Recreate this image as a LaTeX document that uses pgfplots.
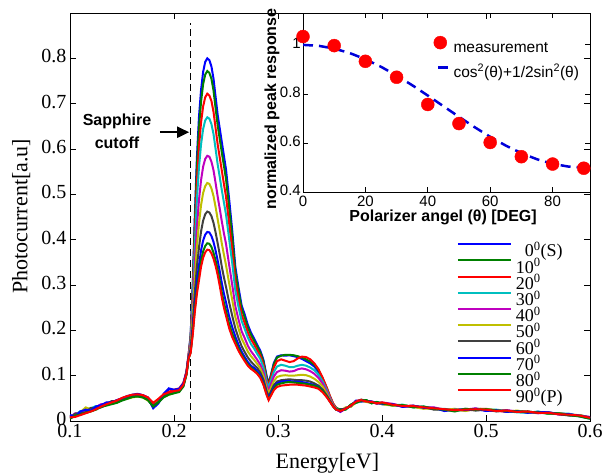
\documentclass[border=0pt]{standalone}
\usepackage{fontspec}
\setmainfont{Liberation Serif}
\newfontfamily\sansf{Liberation Sans}
\usepackage{pgfplots}
\usepackage{pgfplotstable}
\pgfplotsset{compat=1.18}
\usetikzlibrary{arrows.meta}

\definecolor{mblue}{rgb}{0,0,1}
\definecolor{mgreen}{rgb}{0,0.5,0}
\definecolor{mred}{rgb}{1,0,0}
\definecolor{mcyan}{rgb}{0,0.75,0.75}
\definecolor{mmag}{rgb}{0.75,0,0.75}
\definecolor{myel}{rgb}{0.75,0.75,0}
\definecolor{mgray}{rgb}{0.25,0.25,0.25}

% photocurrent spectra, one column per polarizer angle
\pgfplotstableread{
E c0 c10 c20 c30 c40 c50 c60 c70 c80 c90
0.100 0.010 0.006 0.009 0.012 0.008 0.011 0.007 0.013 0.005 0.008
0.105 0.015 0.011 0.014 0.013 0.017 0.012 0.016 0.010 0.012 0.009
0.110 0.020 0.016 0.018 0.022 0.015 0.019 0.017 0.021 0.014 0.013
0.115 0.024 0.020 0.026 0.021 0.023 0.030 0.019 0.025 0.018 0.017
0.120 0.027 0.024 0.025 0.028 0.022 0.026 0.029 0.023 0.021 0.021
0.125 0.030 0.029 0.027 0.033 0.031 0.026 0.028 0.032 0.025 0.026
0.130 0.036 0.032 0.034 0.031 0.037 0.033 0.030 0.035 0.031 0.032
0.135 0.038 0.036 0.040 0.037 0.035 0.039 0.036 0.041 0.034 0.037
0.140 0.042 0.039 0.041 0.043 0.040 0.038 0.044 0.041 0.037 0.041
0.145 0.044 0.042 0.046 0.043 0.045 0.041 0.043 0.046 0.040 0.045
0.150 0.048 0.047 0.049 0.046 0.050 0.047 0.048 0.050 0.045 0.051
0.155 0.052 0.050 0.054 0.051 0.053 0.049 0.052 0.055 0.049 0.055
0.160 0.055 0.054 0.057 0.055 0.056 0.052 0.056 0.058 0.053 0.058
0.165 0.057 0.055 0.058 0.056 0.059 0.054 0.057 0.060 0.054 0.059
0.170 0.054 0.053 0.056 0.054 0.057 0.052 0.055 0.057 0.052 0.057
0.175 0.048 0.046 0.050 0.049 0.051 0.045 0.049 0.052 0.046 0.052
0.180 0.030 0.033 0.036 0.034 0.038 0.040 0.035 0.028 0.032 0.040
0.185 0.040 0.043 0.046 0.045 0.047 0.044 0.042 0.039 0.041 0.049
0.190 0.056 0.055 0.058 0.054 0.057 0.053 0.056 0.060 0.052 0.059
0.195 0.070 0.063 0.064 0.060 0.062 0.058 0.061 0.072 0.058 0.063
0.200 0.068 0.066 0.069 0.064 0.066 0.062 0.065 0.069 0.061 0.066
0.205 0.070 0.067 0.072 0.066 0.069 0.068 0.066 0.071 0.064 0.068
0.209 0.082 0.079 0.084 0.078 0.080 0.081 0.077 0.083 0.076 0.080
0.212 0.108 0.106 0.110 0.104 0.107 0.103 0.105 0.106 0.102 0.104
0.214 0.145 0.143 0.146 0.140 0.142 0.139 0.141 0.140 0.137 0.138
0.216 0.190 0.187 0.183 0.178 0.170 0.164 0.158 0.154 0.151 0.150
0.218 0.300 0.293 0.280 0.266 0.244 0.228 0.212 0.200 0.194 0.190
0.220 0.450 0.436 0.411 0.385 0.343 0.313 0.282 0.259 0.247 0.240
0.222 0.580 0.560 0.525 0.488 0.427 0.384 0.340 0.308 0.290 0.280
0.224 0.670 0.646 0.603 0.559 0.487 0.435 0.382 0.343 0.322 0.310
0.226 0.730 0.704 0.658 0.610 0.531 0.476 0.418 0.376 0.353 0.340
0.228 0.770 0.743 0.694 0.644 0.561 0.503 0.442 0.398 0.374 0.360
0.230 0.792 0.764 0.714 0.663 0.578 0.518 0.456 0.411 0.386 0.372
0.232 0.800 0.772 0.722 0.670 0.585 0.525 0.462 0.417 0.392 0.378
0.234 0.796 0.768 0.718 0.667 0.583 0.523 0.460 0.416 0.391 0.377
0.236 0.782 0.755 0.706 0.655 0.572 0.513 0.452 0.408 0.384 0.370
0.238 0.755 0.729 0.682 0.633 0.553 0.496 0.437 0.395 0.371 0.358
0.240 0.715 0.690 0.646 0.600 0.525 0.472 0.416 0.376 0.354 0.342
0.242 0.675 0.652 0.610 0.566 0.495 0.445 0.392 0.354 0.334 0.322
0.244 0.645 0.622 0.581 0.538 0.468 0.419 0.367 0.330 0.309 0.298
0.246 0.615 0.592 0.552 0.509 0.440 0.391 0.340 0.304 0.283 0.272
0.248 0.585 0.563 0.523 0.482 0.414 0.367 0.317 0.281 0.261 0.250
0.250 0.555 0.534 0.495 0.456 0.391 0.344 0.296 0.262 0.243 0.232
0.253 0.490 0.471 0.437 0.402 0.345 0.304 0.262 0.231 0.214 0.205
0.256 0.420 0.405 0.377 0.348 0.300 0.267 0.232 0.207 0.193 0.185
0.259 0.340 0.329 0.309 0.288 0.253 0.229 0.204 0.186 0.176 0.170
0.262 0.295 0.286 0.269 0.252 0.224 0.204 0.183 0.168 0.160 0.155
0.265 0.255 0.248 0.234 0.221 0.198 0.182 0.165 0.153 0.147 0.143
0.268 0.235 0.228 0.216 0.203 0.183 0.168 0.152 0.141 0.135 0.132
0.271 0.212 0.206 0.195 0.184 0.166 0.153 0.140 0.130 0.125 0.122
0.274 0.195 0.190 0.180 0.170 0.154 0.143 0.131 0.122 0.118 0.115
0.277 0.182 0.177 0.169 0.160 0.145 0.135 0.124 0.117 0.112 0.110
0.280 0.168 0.164 0.156 0.148 0.135 0.126 0.117 0.110 0.106 0.104
0.283 0.155 0.151 0.144 0.137 0.124 0.116 0.107 0.101 0.097 0.095
0.286 0.135 0.131 0.125 0.118 0.107 0.099 0.091 0.085 0.082 0.080
0.289 0.100 0.097 0.092 0.087 0.079 0.073 0.066 0.062 0.059 0.058
0.291 0.082 0.080 0.078 0.074 0.066 0.060 0.054 0.050 0.048 0.046
0.293 0.100 0.098 0.094 0.088 0.080 0.072 0.064 0.060 0.057 0.055
0.296 0.128 0.125 0.118 0.108 0.098 0.088 0.079 0.074 0.071 0.068
0.299 0.142 0.140 0.132 0.120 0.108 0.097 0.087 0.083 0.080 0.075
0.303 0.145 0.144 0.136 0.124 0.112 0.100 0.090 0.087 0.083 0.078
0.307 0.144 0.146 0.133 0.122 0.111 0.101 0.091 0.088 0.085 0.079
0.311 0.145 0.146 0.130 0.119 0.109 0.100 0.092 0.088 0.086 0.080
0.315 0.143 0.145 0.132 0.119 0.110 0.100 0.091 0.087 0.085 0.080
0.319 0.141 0.143 0.138 0.122 0.114 0.101 0.090 0.087 0.084 0.080
0.323 0.137 0.140 0.142 0.124 0.116 0.102 0.090 0.086 0.083 0.079
0.327 0.132 0.136 0.141 0.122 0.114 0.101 0.089 0.084 0.082 0.078
0.331 0.127 0.131 0.136 0.118 0.110 0.098 0.087 0.082 0.080 0.076
0.335 0.120 0.124 0.127 0.112 0.104 0.093 0.083 0.079 0.078 0.074
0.339 0.108 0.112 0.114 0.102 0.095 0.086 0.078 0.075 0.074 0.071
0.343 0.090 0.094 0.095 0.087 0.082 0.076 0.069 0.066 0.066 0.063
0.347 0.070 0.072 0.073 0.068 0.064 0.060 0.056 0.054 0.054 0.052
0.350 0.052 0.054 0.055 0.051 0.049 0.046 0.044 0.043 0.043 0.042
0.353 0.037 0.038 0.039 0.036 0.035 0.034 0.033 0.033 0.032 0.032
0.356 0.028 0.029 0.028 0.027 0.026 0.026 0.025 0.025 0.025 0.025
0.360 0.022 0.025 0.021 0.024 0.020 0.023 0.026 0.021 0.024 0.022
0.365 0.028 0.026 0.029 0.025 0.027 0.030 0.026 0.028 0.025 0.027
0.370 0.033 0.036 0.032 0.035 0.034 0.031 0.035 0.033 0.036 0.034
0.375 0.041 0.043 0.044 0.040 0.043 0.041 0.042 0.045 0.040 0.043
0.380 0.046 0.044 0.047 0.043 0.046 0.044 0.047 0.043 0.045 0.046
0.385 0.043 0.045 0.042 0.046 0.044 0.042 0.045 0.044 0.046 0.043
0.390 0.040 0.042 0.043 0.039 0.042 0.040 0.041 0.043 0.039 0.042
0.395 0.041 0.039 0.040 0.042 0.038 0.041 0.039 0.040 0.042 0.039
0.400 0.037 0.040 0.038 0.039 0.041 0.037 0.040 0.038 0.039 0.041
0.410 0.036 0.034 0.037 0.035 0.038 0.034 0.036 0.037 0.035 0.036
0.420 0.032 0.035 0.033 0.036 0.032 0.035 0.034 0.031 0.035 0.033
0.430 0.033 0.031 0.034 0.030 0.033 0.031 0.032 0.034 0.030 0.033
0.440 0.029 0.031 0.028 0.032 0.030 0.027 0.031 0.029 0.032 0.030
0.450 0.028 0.026 0.029 0.027 0.030 0.028 0.025 0.029 0.027 0.028
0.460 0.024 0.026 0.023 0.027 0.025 0.024 0.026 0.022 0.025 0.026
0.470 0.025 0.023 0.026 0.022 0.024 0.027 0.023 0.025 0.021 0.024
0.480 0.026 0.024 0.023 0.027 0.025 0.022 0.026 0.024 0.027 0.025
0.490 0.025 0.027 0.026 0.024 0.028 0.026 0.023 0.027 0.025 0.026
0.500 0.024 0.026 0.027 0.025 0.023 0.026 0.025 0.022 0.026 0.025
0.510 0.024 0.022 0.023 0.025 0.022 0.024 0.021 0.024 0.023 0.022
0.520 0.021 0.023 0.020 0.022 0.024 0.021 0.023 0.020 0.022 0.023
0.530 0.022 0.020 0.022 0.019 0.021 0.023 0.020 0.022 0.021 0.020
0.540 0.019 0.021 0.020 0.018 0.020 0.019 0.021 0.018 0.020 0.021
0.550 0.020 0.018 0.019 0.021 0.017 0.019 0.018 0.020 0.019 0.018
0.560 0.017 0.019 0.018 0.016 0.019 0.017 0.018 0.019 0.016 0.018
0.570 0.016 0.015 0.017 0.016 0.014 0.017 0.015 0.016 0.017 0.015
0.580 0.015 0.013 0.014 0.016 0.013 0.014 0.012 0.015 0.013 0.014
0.590 0.011 0.013 0.012 0.010 0.012 0.013 0.011 0.012 0.010 0.012
0.600 0.006 0.008 0.007 0.005 0.009 0.006 0.008 0.007 0.005 0.007
}\spectra

\pgfplotstableread{
theta meas
0 1.034
10 0.997
20 0.933
30 0.868
40 0.757
50 0.679
60 0.602
70 0.544
80 0.514
90 0.497
}\peakdata

\pgfplotstableread{
theta model
0 1.0000
5 0.9962
10 0.9849
15 0.9665
20 0.9415
25 0.9107
30 0.8750
35 0.8355
40 0.7934
45 0.7500
50 0.7066
55 0.6645
60 0.6250
65 0.5893
70 0.5585
75 0.5335
80 0.5151
85 0.5038
90 0.5000
}\modeldata

\begin{document}
\begin{tikzpicture}
\begin{axis}[
  at={(0pt,0pt)}, anchor=south west,
  scale only axis, width=520pt, height=408pt,
  xmin=0.1, xmax=0.6, ymin=0, ymax=0.9,
  xtick={0.1,0.2,0.3,0.4,0.5,0.6},
  ytick={0,0.1,0.2,0.3,0.4,0.5,0.6,0.7,0.8},
  tick align=inside, major tick length=6pt,
  tick style={black, line width=0.8pt},
  axis line style={line width=0.9pt},
  /pgf/number format/assume math mode=true,
  tick label style={font=\fontsize{20}{24}\selectfont},
  xticklabel style={inner sep=2pt, yshift=-1pt},
  yticklabel style={yshift=2pt},
  xlabel={Energy[eV]}, ylabel={Photocurrent[a.u]},
  label style={font=\fontsize{22}{26}\selectfont},
  xlabel style={at={(axis description cs:0.495,-0.103)}, anchor=center},
  ylabel style={at={(axis description cs:-0.094,0.502)}, anchor=center},
  every axis plot/.append style={line width=2pt, no markers},
  legend cell align=left,
  legend image code/.code={\draw[#1] (0pt,10pt) -- (53pt,10pt);},
  legend style={at={(rel axis cs:0.744,0.436)}, anchor=north west,
    draw=none, fill=none, inner sep=0pt, outer sep=0pt, row sep=-3.1pt,
    font=\fontsize{18}{18}\selectfont,
    nodes={inner sep=0pt, text height=11pt, text depth=5.6pt},
    /tikz/every odd column/.append style={column sep=4pt}},
]
\addplot[black, line width=0.9pt, dash pattern=on 7pt off 4pt, forget plot]
  coordinates {(0.2155,0) (0.2155,0.877)};
\addplot[mblue]  table[x=E, y=c0]  {\spectra}; \addlegendentry{\phantom{1}0\textsuperscript{0}(S)}
\addplot[mgreen] table[x=E, y=c10] {\spectra}; \addlegendentry{10\textsuperscript{0}}
\addplot[mred]   table[x=E, y=c20] {\spectra}; \addlegendentry{20\textsuperscript{0}}
\addplot[mcyan]  table[x=E, y=c30] {\spectra}; \addlegendentry{30\textsuperscript{0}}
\addplot[mmag]   table[x=E, y=c40] {\spectra}; \addlegendentry{40\textsuperscript{0}}
\addplot[myel]   table[x=E, y=c50] {\spectra}; \addlegendentry{50\textsuperscript{0}}
\addplot[mgray]  table[x=E, y=c60] {\spectra}; \addlegendentry{60\textsuperscript{0}}
\addplot[mblue]  table[x=E, y=c70] {\spectra}; \addlegendentry{70\textsuperscript{0}}
\addplot[mgreen] table[x=E, y=c80] {\spectra}; \addlegendentry{80\textsuperscript{0}}
\addplot[mred]   table[x=E, y=c90] {\spectra}; \addlegendentry{90\textsuperscript{0}(P)}

\node[font=\sansf\bfseries\fontsize{16}{23}\selectfont, align=center]
  at (axis cs:0.1452,0.639) {Sapphire\\cutoff};
\draw[-{Triangle[length=12pt,width=11pt]}, line width=2pt]
  (axis cs:0.1865,0.637) -- (axis cs:0.2146,0.637);
\end{axis}

% inset: normalized peak response vs polarizer angle
\begin{axis}[
  at={(233pt,229pt)}, anchor=south west,
  scale only axis, width=287pt, height=179pt,
  xmin=0, xmax=92, ymin=0.4, ymax=1.13,
  xtick={0,20,40,60,80}, ytick={0.4,0.6,0.8,1},
  tick align=inside, major tick length=5pt,
  tick style={black, line width=0.8pt},
  axis line style={line width=0.9pt},
  /pgf/number format/assume math mode=true,
  tick label style={font=\sansf\fontsize{15}{18}\selectfont, inner sep=2pt},
  xticklabel style={yshift=-2pt},
  yticklabel style={yshift=2pt},
  xlabel={Polarizer angel (θ) [DEG]},
  ylabel={normalized peak response},
  label style={font=\sansf\bfseries\fontsize{16}{19}\selectfont},
  xlabel style={at={(axis description cs:0.488,-0.14)}, anchor=center},
  ylabel style={at={(axis description cs:-0.108,0.464)}, anchor=center},
  legend cell align=left,
  legend style={at={(rel axis cs:0.455,0.872)}, anchor=north west,
    draw=none, fill=none, inner sep=0pt, outer sep=0pt, row sep=8pt,
    font=\sansf\fontsize{15.5}{18}\selectfont,
    nodes={inner sep=0pt, text height=13pt, text depth=4pt},
    /tikz/every odd column/.append style={column sep=4pt}},
]
\addplot[only marks, mark=*, mark size=6.5pt, color=mred,
  legend image code/.code={\fill[mred] (0pt,5pt) circle (6.5pt);}]
  table[x=theta, y=meas] {\peakdata};
\addlegendentry{measurement}
\addplot[color=blue!85!black, line width=2.5pt, dash pattern=on 10pt off 6pt,
  legend image code/.code={\draw[blue!85!black, line width=2.5pt] (-2pt,5pt) -- (8pt,5pt);}]
  table[x=theta, y=model] {\modeldata};
\addlegendentry{cos\textsuperscript{2}(θ)+1/2sin\textsuperscript{2}(θ)}
\end{axis}

\pgfresetboundingbox
\path[use as bounding box] (-70pt,-55pt) rectangle (535pt,421pt);
\end{tikzpicture}
\end{document}
